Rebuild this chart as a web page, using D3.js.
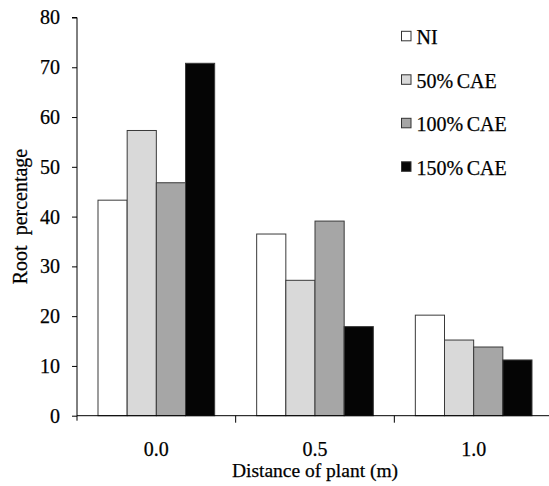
<!DOCTYPE html>
<html>
<head>
<meta charset="utf-8">
<script src="https://cdn.jsdelivr.net/npm/d3@7"></script>
<style>
  body { margin: 0; background: #fff; }
  svg text { font-family: "Liberation Serif", "Times New Roman", serif; fill: #000; stroke: #000; stroke-width: 0.25px; }
</style>
</head>
<body>
<svg id="chart" width="549" height="486"></svg>
<script>
// chart data
const distances = ["0.0", "0.5", "1.0"];
const treatments = ["NI", "50% CAE", "100% CAE", "150% CAE"];
const fills = ["#ffffff", "#d9d9d9", "#a6a6a6", "#050505"];
const rootValues = [
  [43.3, 57.3, 46.8, 70.8],
  [36.5, 27.2, 39.1, 17.9],
  [20.2, 15.2, 13.8, 11.2]
];
const yTicks = [0, 10, 20, 30, 40, 50, 60, 70, 80];

const serif = '"Liberation Serif", "Times New Roman", serif';

let svg = d3.select('#chart');

let plotLeft = 77, plotBottom = 415.7, plotTop = 17.5, plotRight = 553;

// scales
let xScale = d3.scaleBand()
  .domain(distances)
  .range([plotLeft, plotRight]);

let inner = d3.scaleBand()
  .domain(treatments)
  .range([21, xScale.bandwidth() - 21]);

let yScale = d3.scaleLinear()
  .domain([0, 80])
  .range([plotBottom, plotTop]);

let colorScale = d3.scaleOrdinal()
  .domain(treatments)
  .range(fills);

// y axis
let yAxis = d3.axisLeft(yScale).tickValues(yTicks).tickSize(5).tickPadding(12);
svg.append('g')
  .attr('transform', `translate(${plotLeft},0)`)
  .call(yAxis)
  .attr('font-family', serif)
  .call(g => g.select('.domain').attr('d', `M-5,${plotTop}H0V${plotBottom + 5}`))
  .call(g => g.selectAll('line').attr('stroke', '#000'))
  .selectAll('text')
  .style('font-size', '20px');

// bars
let groups = svg.append('g').selectAll('g')
  .data(distances).enter().append('g')
  .attr('transform', d => `translate(${xScale(d)},0)`);

groups.selectAll('rect')
  .data((d, i) => treatments.map((t, j) => ({t: t, v: rootValues[i][j]})))
  .enter().append('rect')
  .attr('x', d => inner(d.t))
  .attr('width', inner.bandwidth())
  .attr('y', d => yScale(d.v))
  .attr('height', d => plotBottom - yScale(d.v))
  .attr('fill', d => colorScale(d.t))
  .attr('stroke', '#3a3a3a')
  .attr('stroke-width', 1);

// x axis
let xAxis = d3.axisBottom(xScale).tickSize(0);
svg.append('g')
  .attr('transform', `translate(0,${plotBottom})`)
  .call(xAxis)
  .attr('font-family', serif)
  .call(g => g.select('.domain').attr('d', `M${plotLeft},0H549`))
  .selectAll('text')
  .attr('y', 40.3)
  .attr('dy', 0)
  .style('font-size', '20px');

// separator ticks between categories
svg.append('g').selectAll('line')
  .data(distances.slice(1)).enter().append('line')
  .attr('x1', d => xScale(d)).attr('x2', d => xScale(d))
  .attr('y1', plotBottom).attr('y2', plotBottom + 7)
  .attr('stroke', '#000');

// axis titles
svg.append('text')
  .attr('x', 315).attr('y', 477)
  .attr('text-anchor', 'middle')
  .style('font-size', '19.5px')
  .text('Distance of plant (m)');

svg.append('text')
  .attr('transform', 'translate(27,216.5) rotate(-90)')
  .attr('text-anchor', 'middle')
  .style('font-size', '20px')
  .style('white-space', 'pre')
  .text('Root  percentage');

// legend
let legendY = d3.scalePoint().domain(treatments).range([36, 166.5]);
let legend = svg.append('g').selectAll('g')
  .data(treatments).enter().append('g')
  .attr('transform', d => `translate(401.5,${legendY(d)})`);

legend.append('rect')
  .attr('x', 0).attr('y', -4.7)
  .attr('width', 9.5).attr('height', 9.5)
  .attr('fill', d => colorScale(d))
  .attr('stroke', '#333');

legend.append('text')
  .attr('x', 15).attr('y', 8)
  .style('font-size', '20px')
  .style('word-spacing', '-1.5px')
  .text(d => d);
</script>
</body>
</html>
